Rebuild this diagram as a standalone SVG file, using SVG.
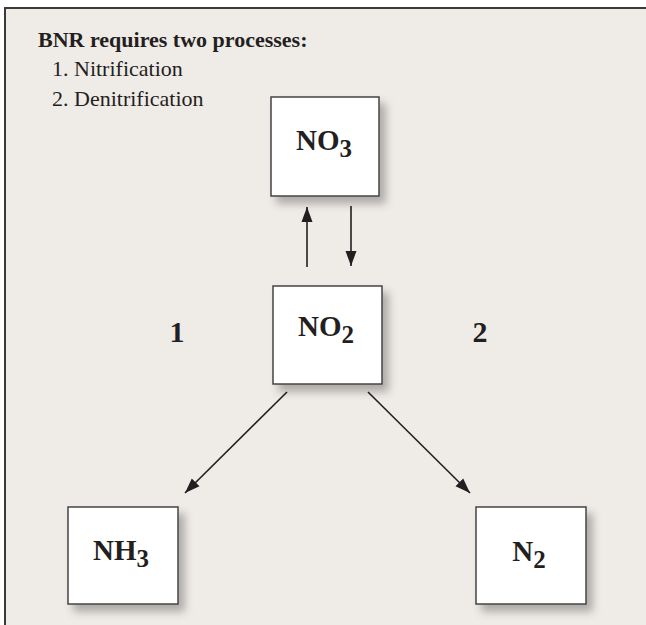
<svg xmlns="http://www.w3.org/2000/svg" width="646" height="625" viewBox="0 0 646 625">
  <defs>
    <filter id="shadow" x="-20%" y="-20%" width="150%" height="150%">
      <feDropShadow dx="6" dy="7" stdDeviation="4" flood-color="#000" flood-opacity="0.28"/>
    </filter>
    <marker id="arrow" markerUnits="userSpaceOnUse" markerWidth="16" markerHeight="12" viewBox="0 0 16 12" refX="15" refY="6" orient="auto">
      <path d="M0,0.5 L15,6 L0,11.5 z" fill="#231f20"/>
    </marker>
  </defs>
  <style>
    .bg { fill: #efebe7; }
    .frame { fill: none; stroke: #3a3a3a; stroke-width: 2; }
    .box { fill: #ffffff; stroke: #444444; stroke-width: 1.5; filter: url(#shadow); }
    .head { font-family: "Liberation Serif", "Times New Roman", serif; font-weight: bold; font-size: 22px; fill: #231f20; }
    .item { font-family: "Liberation Serif", "Times New Roman", serif; font-size: 22px; fill: #231f20; }
    .lbl { font-family: "Liberation Serif", "Times New Roman", serif; font-weight: bold; font-size: 29px; fill: #231f20; text-anchor: middle; }
    .sub { font-size: 25px; }
    .num { font-family: "Liberation Serif", "Times New Roman", serif; font-weight: bold; font-size: 30px; fill: #231f20; text-anchor: middle; }
    .conn { stroke: #231f20; stroke-width: 1.6; fill: none; marker-end: url(#arrow); }
  </style>

  <rect x="0" y="0" width="646" height="625" fill="#ffffff"/>
  <rect class="bg" x="5" y="8" width="641" height="617"/>
  <path class="frame" d="M5,625 V8 H646"/>

  <g id="title">
    <text class="head" x="38" y="47">BNR requires two processes:</text>
    <text class="item" x="52" y="76">1. Nitrification</text>
    <text class="item" x="52" y="106">2. Denitrification</text>
  </g>

  <g id="connectors">
    <line class="conn" x1="307" y1="267" x2="307" y2="207"/>
    <line class="conn" x1="351" y1="206" x2="351" y2="266"/>
    <line class="conn" x1="287" y1="392" x2="185" y2="493"/>
    <line class="conn" x1="368" y1="392" x2="470" y2="493"/>
  </g>

  <g id="node-no3">
    <rect class="box" x="271" y="97" width="108" height="99"/>
    <text class="lbl" x="324" y="150">NO<tspan class="sub" dy="7">3</tspan></text>
  </g>

  <g id="node-no2">
    <rect class="box" x="273" y="286" width="109" height="98"/>
    <text class="lbl" x="326" y="336">NO<tspan class="sub" dy="7">2</tspan></text>
  </g>

  <g id="node-nh3">
    <rect class="box" x="68" y="507" width="110" height="97"/>
    <text class="lbl" x="121" y="560">NH<tspan class="sub" dy="7">3</tspan></text>
  </g>

  <g id="node-n2">
    <rect class="box" x="476" y="507" width="110" height="97"/>
    <text class="lbl" x="529" y="561">N<tspan class="sub" dy="7">2</tspan></text>
  </g>

  <g id="label-1">
    <text class="num" x="177" y="342">1</text>
  </g>
  <g id="label-2">
    <text class="num" x="480" y="342">2</text>
  </g>
</svg>
